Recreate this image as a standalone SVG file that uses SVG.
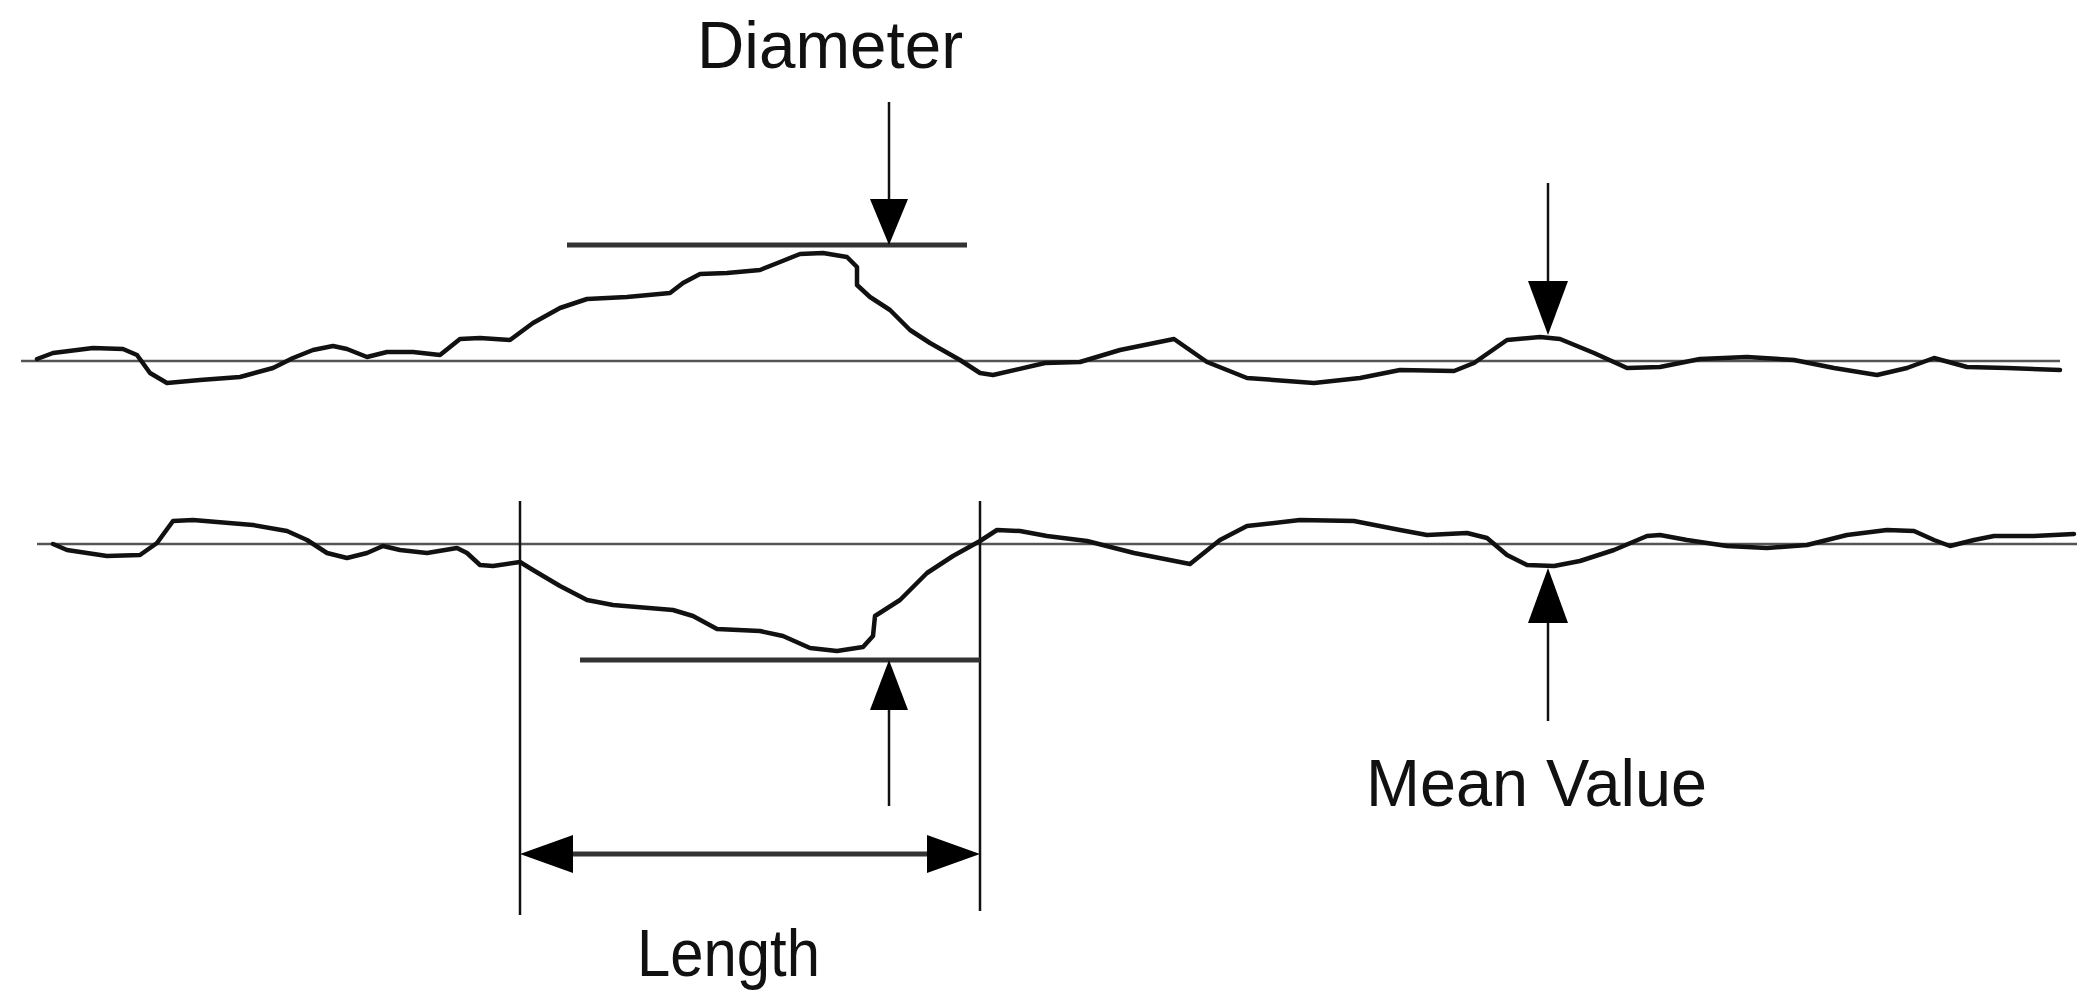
<svg xmlns="http://www.w3.org/2000/svg" width="2095" height="1006" viewBox="0 0 2095 1006">
<style>
.base{stroke:#555;stroke-width:2.5;fill:none}
.curve{stroke:#111;stroke-width:4.5;fill:none;stroke-linejoin:round;stroke-linecap:round}
.ln{stroke:#111;stroke-width:2.5;fill:none}
.bar{stroke:#333;stroke-width:5;fill:none}
.head{fill:#000}
.lbl{font-family:"Liberation Sans",Arial,sans-serif;font-size:66px;fill:#111}
</style>
<rect width="2095" height="1006" fill="#fff"/>
<g id="profile-top">
<line class="base" x1="21" y1="361" x2="2060" y2="361"/>
<polyline class="curve" points="37,359 53,353 93,348 123,349 137,355 150,373 167,383 200,380 240,377 273,368 293,358 313,350 333,346 347,349 367,357 387,352 413,352 440,355 460,339 480,338 510,340 533,323 560,308 587,299 627,297 670,293 683,283 700,274 727,273 760,270 780,262 800,254 823,253 847,257 857,267 857,285 870,297 890,310 910,330 930,343 960,360 980,373 993,375 1045,363 1080,362 1120,350 1174,339 1207,362 1247,378 1314,383 1360,378 1400,370 1454,371 1474,363 1507,340 1540,337 1560,339 1594,353 1627,368 1660,367 1700,359 1747,357 1794,360 1834,368 1877,375 1907,368 1934,358 1967,367 2007,368 2060,370"/>
</g>
<g id="profile-bottom">
<line class="base" x1="37" y1="544" x2="2077" y2="544"/>
<polyline class="curve" points="53,544 67,550 107,556 140,555 157,543 173,521 193,520 253,525 287,531 307,540 327,553 347,558 367,553 383,546 400,550 427,553 457,548 467,553 480,565 493,566 520,562 533,570 560,586 587,600 613,605 673,610 693,616 717,629 760,631 783,636 810,648 837,651 863,647 873,636 875,616 900,600 927,573 953,556 980,541 997,530 1020,531 1047,536 1087,541 1134,553 1190,564 1220,540 1247,526 1300,520 1354,521 1400,530 1427,535 1467,533 1487,538 1507,555 1527,565 1554,566 1580,561 1614,550 1647,536 1660,535 1687,540 1727,546 1767,548 1807,545 1847,535 1887,530 1914,531 1934,540 1950,546 1974,540 1994,536 2034,536 2074,534"/>
</g>
<g id="diameter">
<text class="lbl" x="697" y="68" textLength="266" lengthAdjust="spacingAndGlyphs">Diameter</text>
<line class="bar" x1="567" y1="245" x2="967" y2="245"/>
</g>
<g id="length">
<line class="ln" x1="520" y1="501" x2="520" y2="915"/>
<line class="ln" x1="980" y1="501" x2="980" y2="911"/>
<line class="bar" x1="580" y1="660" x2="980" y2="660"/>
<text class="lbl" x="637" y="976" textLength="183" lengthAdjust="spacingAndGlyphs">Length</text>
</g>
<g id="mean-value">
<text class="lbl" x="1366" y="806" textLength="341" lengthAdjust="spacingAndGlyphs">Mean Value</text>
</g>
<g id="connectors">
<line class="ln" x1="889" y1="102" x2="889" y2="200"/>
<polygon class="head" points="870,199 908,199 889,245"/>
<line class="ln" x1="1548" y1="183" x2="1548" y2="282"/>
<polygon class="head" points="1528,281 1568,281 1548,335"/>
<line class="ln" x1="889" y1="806" x2="889" y2="708"/>
<polygon class="head" points="870,710 908,710 889,660"/>
<line class="ln" x1="1548" y1="721" x2="1548" y2="622"/>
<polygon class="head" points="1528,623 1568,623 1548,568"/>
<line class="bar" x1="570" y1="854" x2="930" y2="854"/>
<polygon class="head" points="520,854 573,835 573,873"/>
<polygon class="head" points="980,854 927,835 927,873"/>
</g>
</svg>
